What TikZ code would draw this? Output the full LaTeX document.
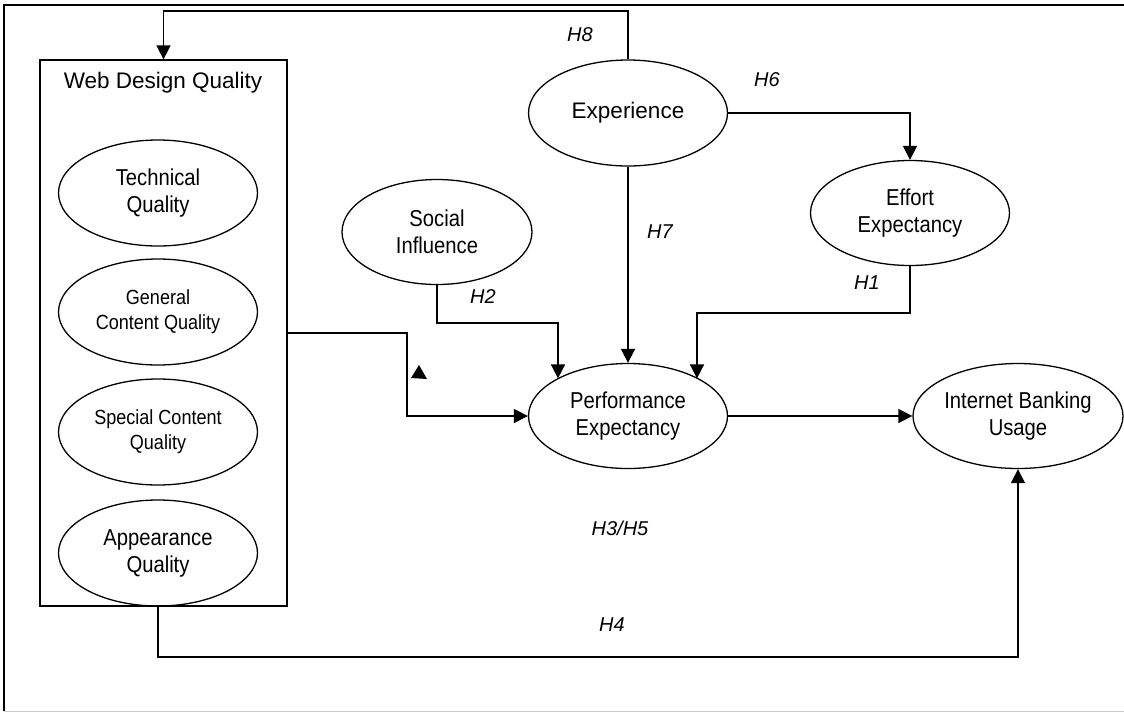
\documentclass[tikz,border=0pt]{standalone}
\usepackage{fontspec}
\setmainfont{Liberation Sans}
\newfontfamily\narrowsans[FakeStretch=0.88]{Liberation Sans}
\usetikzlibrary{shapes.geometric,arrows.meta}
\begin{document}
\begin{tikzpicture}[x=1pt,y=-1pt,line width=1.6pt,
  arr/.style={-{Triangle[length=14pt,width=14pt]}},
  oval/.style={draw,ellipse,line width=1.3pt,minimum width=199pt,minimum height=106pt,inner sep=0pt,align=center,font=\narrowsans\fontsize{23}{27}\selectfont},
  small/.style={font=\narrowsans\fontsize{20.5}{25}\selectfont},
  big/.style={font=\fontsize{22.5}{27}\selectfont},
  hyp/.style={font=\fontsize{20}{24}\selectfont\itshape}]
\useasboundingbox (0,0) rectangle (1124,713);
\draw (4,711) -- (4,5) -- (1124,5);
\draw[gray!40,line width=1pt] (4,711) -- (1124,711);
\node[draw,line width=1.3pt,minimum width=247pt,minimum height=546pt,inner sep=0pt] (wdq) at (163.5,333) {};
\node[big] (wdqtitle) at (163,83) {Web Design Quality};
\node[oval] (tq) at (158,193) {Technical\\Quality};
\node[oval,small] (gcq) at (158,312) {General\\Content Quality};
\node[oval,small] (scq) at (158,432) {Special Content\\Quality};
\node[oval] (aq) at (158,553) {Appearance\\Quality};
\node[oval,minimum width=190pt,minimum height=105pt] (si) at (437,232) {Social\\Influence};
\node[oval,big] (exp) at (628,113) {Experience};
\node[oval,minimum height=105pt] (ee) at (910,213) {Effort\\Expectancy};
\node[oval,minimum height=105pt] (pe) at (628,416) {Performance\\Expectancy};
\node[oval,minimum width=210pt,minimum height=105pt] (ibu) at (1018,416) {Internet Banking\\Usage};
% hypothesis labels
\node[hyp] (h8) at (580,35) {H8};
\node[hyp] (h6) at (767,80) {H6};
\node[hyp] (h7) at (660,232) {H7};
\node[hyp] (h2) at (483,297) {H2};
\node[hyp] (h1) at (867,283) {H1};
\node[hyp] (h35) at (620,528) {H3/H5};
\node[hyp] (h4) at (612,625) {H4};
% paths
\coordinate (h8top) at (400,11);
\draw[arr] (exp.north) |- (h8top) -| (wdq.north);
\draw[arr] (exp.east) -| (ee.north);
\draw[arr] (exp.south) -- (exp.south |- pe.north);
\coordinate (h2bend) at (558,323);
\draw[arr] (si.south) |- (h2bend) -- (h2bend |- pe.152);
\coordinate (h1bend) at (697,313);
\draw[arr] (ee.south) |- (h1bend) -- (h1bend |- pe.28);
\coordinate (wdqbend) at (407,416);
\draw[arr] (wdq.east) -| (wdqbend) -- (pe.west);
\fill (419,365) -- (411,378) -- (427,379) -- cycle;
\draw[arr] (pe.east) -- (ibu.west);
\coordinate (h4bend) at (1018,657);
\draw[arr] (aq.south) |- (h4bend) -- (ibu.south);
\end{tikzpicture}
\end{document}
